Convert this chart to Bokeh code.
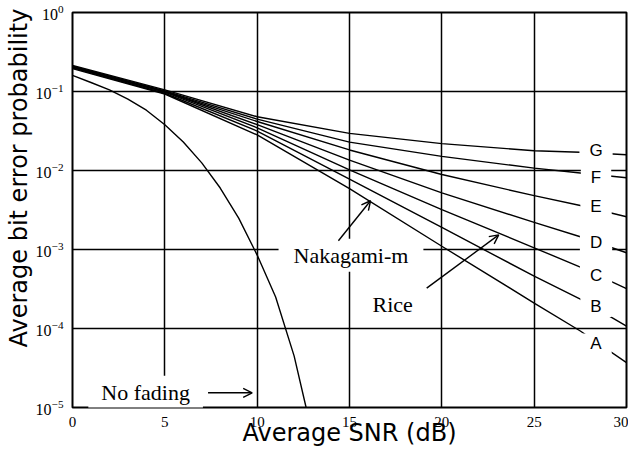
from bokeh.embed import file_html
from bokeh.models import Arrow, FixedTicker, Label, OpenHead, Range1d, Title
from bokeh.plotting import figure
from bokeh.resources import INLINE

# ---- data -------------------------------------------------------------
# average SNR (dB) at which the fading curves were read
snr_fan = [0, 5, 10, 15, 20, 25, 27.5, 30]

# average bit error probability for the seven fading curves A..G
ber_A = [0.195, 0.093, 0.0282, 0.0059, 0.0011, 0.00021, 0.000093, 0.000037]
ber_B = [0.200, 0.095, 0.0316, 0.0078, 0.0019, 0.00046, 0.000235, 0.000107]
ber_C = [0.204, 0.098, 0.0347, 0.0102, 0.0032, 0.00105, 0.00060, 0.00032]
ber_D = [0.204, 0.100, 0.0380, 0.0135, 0.0052, 0.0022, 0.00145, 0.00091]
ber_E = [0.209, 0.100, 0.0417, 0.0182, 0.0089, 0.0048, 0.0036, 0.0026]
ber_F = [0.209, 0.102, 0.0447, 0.0229, 0.0151, 0.0107, 0.0093, 0.0081]
ber_G = [0.214, 0.105, 0.0479, 0.0295, 0.0219, 0.0178, 0.0170, 0.0158]

curve_names = ["A", "B", "C", "D", "E", "F", "G"]
curve_values = [ber_A, ber_B, ber_C, ber_D, ber_E, ber_F, ber_G]

# no-fading (AWGN) reference curve
snr_awgn = [0, 1, 2, 3, 4, 5, 6, 7, 8, 9, 10, 11, 12, 12.65]
ber_awgn = [0.16, 0.13, 0.105, 0.08, 0.058, 0.038, 0.023, 0.0125, 0.006,
            0.0025, 0.00085, 0.00025, 0.000045, 0.00001]

x_ticks = [0, 5, 10, 15, 20, 25, 30]
y_ticks = [1, 1e-1, 1e-2, 1e-3, 1e-4, 1e-5]

# ---- layout ----------------------------------------------------------------
SERIF = "Liberation Serif"
SANS = "DejaVu Sans"

p = figure(
    width=628, height=449,
    x_range=Range1d(0, 30), y_range=Range1d(1e-5, 1),
    y_axis_type="log",
    output_backend="svg", toolbar_location=None,
    min_border_left=72, min_border_right=2,
    min_border_top=12, min_border_bottom=41,
    background_fill_color="white", border_fill_color="white",
)
p.outline_line_color = "black"
p.outline_line_width = 2

p.xaxis.ticker = FixedTicker(ticks=x_ticks)
p.yaxis.ticker = FixedTicker(ticks=y_ticks)
p.xgrid.ticker = FixedTicker(ticks=x_ticks)
p.ygrid.ticker = FixedTicker(ticks=y_ticks)
for ax in (p.xaxis[0], p.yaxis[0]):
    ax.axis_line_color = None
    ax.major_tick_line_color = None
    ax.minor_tick_line_color = None
    ax.major_label_text_font = SERIF
    ax.major_label_text_color = "black"
p.xaxis.major_label_text_font_size = "15px"
p.yaxis.major_label_text_font_size = "16px"
p.xaxis.major_label_standoff = 3
p.yaxis.major_label_standoff = 3

p.xaxis.axis_label = "Average SNR (dB)"
p.xaxis.axis_label_text_font = SANS
p.xaxis.axis_label_text_font_size = "24px"
p.xaxis.axis_label_text_font_style = "normal"
p.xaxis.axis_label_text_color = "black"
p.xaxis.axis_label_standoff = -11

# vertical title, starting low on the left side and running upward
p.add_layout(Title(text="Average bit error probability", align="left",
                   offset=60, standoff=0, text_font=SANS,
                   text_font_size="24px", text_font_style="normal",
                   text_color="black"), "left")

for g in (p.xgrid[0], p.ygrid[0]):
    g.grid_line_color = "black"
    g.grid_line_width = 1.5

# curves
for vals in curve_values:
    p.line(snr_fan, vals, line_color="black", line_width=1.4)
p.line(snr_awgn, ber_awgn, line_color="black", line_width=1.4)

# curve letters on white boxes (padding: left, right, top, bottom)
letter_snr = 28.35
letter_ber = [6.37e-5, 1.9e-4, 4.68e-4, 1.222e-3, 3.483e-3, 8.18e-3, 1.774e-2]
for name, yb in zip(curve_names, letter_ber):
    p.add_layout(Label(x=letter_snr, y=yb, text=name,
                       text_align="center", text_baseline="middle",
                       text_font="Liberation Sans", text_font_size="17px",
                       text_color="black", background_fill_color="white",
                       padding=(10, 10, 1, 1)))

# annotations
p.add_layout(Label(x=3.96, y=1.535e-5, text="No fading",
                   text_align="center", text_baseline="middle",
                   text_font=SERIF, text_font_size="22px",
                   text_color="black", background_fill_color="white",
                   padding=(13, 13, 4, 5)))
p.add_layout(Label(x=15.08, y=8.43e-4, text="Nakagami-m",
                   text_align="center", text_baseline="middle",
                   text_font=SERIF, text_font_size="22px",
                   text_color="black", background_fill_color="white",
                   padding=(15, 15, 4, 4)))
p.add_layout(Label(x=17.34, y=1.99e-4, text="Rice",
                   text_align="center", text_baseline="middle",
                   text_font=SERIF, text_font_size="22px",
                   text_color="black"))

head = dict(size=9, line_width=1.4, line_color="black")
p.add_layout(Arrow(end=OpenHead(**head), x_start=7.34, y_start=1.535e-5,
                   x_end=9.73, y_end=1.535e-5, line_width=1.4))
p.add_layout(Arrow(end=OpenHead(**head), x_start=14.4, y_start=1.29e-3,
                   x_end=16.14, y_end=4.14e-3, line_width=1.4))
p.add_layout(Arrow(end=OpenHead(**head), x_start=19.18, y_start=3.24e-4,
                   x_end=23.08, y_end=1.53e-3, line_width=1.4))

open("out.html", "w").write(file_html(p, INLINE))
